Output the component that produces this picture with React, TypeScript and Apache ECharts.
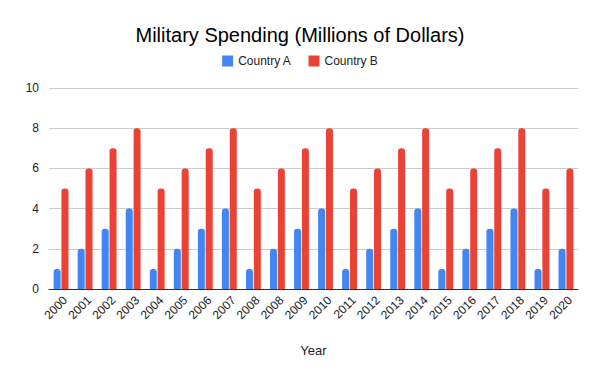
import React, { useEffect, useRef } from "react";
import * as echarts from "echarts";

const years = ["2000","2001","2002","2003","2004","2005","2006","2007","2008","2008","2009","2010","2011","2012","2013","2014","2015","2016","2017","2018","2019","2020"];
const countryA = [1,2,3,4,1,2,3,4,1,2,3,4,1,2,3,4,1,2,3,4,1,2];
const countryB = [5,6,7,8,5,6,7,8,5,6,7,8,5,6,7,8,5,6,7,8,5,6];
const yTicks = { min: 0, max: 10, interval: 2 };

const FONT = "'Liberation Sans', Arial, sans-serif";

export default function App() {
  const ref = useRef<HTMLDivElement>(null);
  useEffect(() => {
    if (!ref.current) return;
    const chart = echarts.init(ref.current, undefined, { renderer: "svg" });
    chart.setOption({
      animation: false,
      backgroundColor: "#ffffff",
      textStyle: { fontFamily: FONT },
      title: {
        text: "Military Spending (Millions of Dollars)",
        left: "center",
        top: 20,
        textStyle: { fontFamily: FONT, fontSize: 20, fontWeight: "normal", color: "#000000" },
      },
      legend: {
        top: 50,
        left: "center",
        itemWidth: 11,
        itemHeight: 11,
        itemGap: 17,
        icon: "rect",
        textStyle: { fontFamily: FONT, fontSize: 12, color: "#222222" },
        data: ["Country A", "Country B"],
      },
      grid: { left: 49, right: 22, top: 88, bottom: 82 },
      xAxis: {
        type: "category",
        data: years,
        name: "Year",
        nameLocation: "middle",
        nameGap: 55,
        nameTextStyle: { fontFamily: FONT, fontSize: 13, color: "#222222" },
        axisLine: { lineStyle: { color: "#333333", width: 1 } },
        axisTick: { show: false },
        axisLabel: { rotate: 45, fontSize: 12, color: "#222222", fontFamily: FONT, margin: 5, interval: 0, verticalAlign: "top" },
      },
      yAxis: {
        type: "value",
        min: yTicks.min,
        max: yTicks.max,
        interval: yTicks.interval,
        axisLine: { show: false },
        axisTick: { show: false },
        axisLabel: { fontSize: 12, color: "#222222", fontFamily: FONT, margin: 10 },
        splitLine: { lineStyle: { color: "#cccccc", width: 1 } },
      },
      series: [
        {
          name: "Country A",
          type: "bar",
          data: countryA,
          barWidth: 7,
          barGap: "12%",
          itemStyle: { color: "#4285F4", borderRadius: [3, 3, 0, 0] },
        },
        {
          name: "Country B",
          type: "bar",
          data: countryB,
          barWidth: 7,
          itemStyle: { color: "#EA4335", borderRadius: [3, 3, 0, 0] },
        },
      ],
    });
    return () => chart.dispose();
  }, []);
  return <div ref={ref} style={{ width: 600, height: 371, position: "absolute", left: 0, top: 0 }} />;
}
